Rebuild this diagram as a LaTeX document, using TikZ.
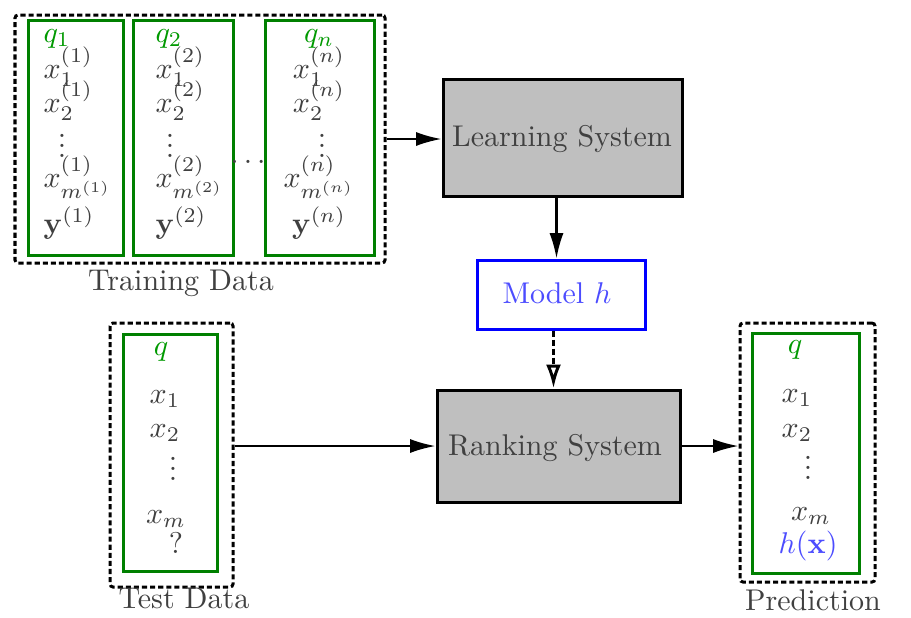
\documentclass[tikz,border=0pt]{standalone}
\usetikzlibrary{arrows.meta,fit}

\newcommand{\shortvdots}{\vbox{\baselineskip3.3pt \lineskiplimit0pt \kern2pt\hbox{.}\hbox{.}\hbox{.}}}

\begin{document}
\begin{tikzpicture}[x=0.3333pt, y=-0.3333pt, >={Latex[length=8.5pt,width=4.7pt]},
	txt/.style={text=black!75, inner sep=0pt},
	qlabel/.style={txt, text=green!60!black},
	query/.style={draw=green!50!black, line width=1pt, inner sep=0pt},
	dataset/.style={draw=black, line width=1pt, dash pattern=on 1.7pt off 1pt, rounded corners=1pt, inner sep=0pt},
	system/.style={draw=black, line width=1pt, fill=black!25, inner sep=0pt},
	flow/.style={->, line width=0.7pt}]
\useasboundingbox (0,0) rectangle (911,617);

% training data
\node[dataset, fit={(15,15) (385,263)}] (train) {};
\foreach \i/\l/\r/\c/\a/\d in {1/28/123/43/base west/62, 2/133/233/155/base west/170, n/265/374/319/base/322}{
	\node[query, fit={(\l,20) (\r,255)}] (col\i) {};
	\node[qlabel, anchor=\a] (q\i) at (\c,42) {$q_\i$};
	\node[txt, anchor=\a] (x1\i) at (\c,78) {$x_1^{(\i)}$};
	\node[txt, anchor=\a] (x2\i) at (\c,112) {$x_2^{(\i)}$};
	\node[txt, anchor=base] (dots\i) at (\d,157) {\shortvdots};
	\node[txt, anchor=\a] (xm\i) at (\c,187) {$x_{m^{(\i)}}^{(\i)}$};
	\node[txt, anchor=\a] (y\i) at (\c,233) {$\mathbf{y}^{(\i)}$};
}
\node[txt, anchor=base] (gap) at (248,163) {$\ldots$};
\node[txt, anchor=base] (trainlabel) at (181,290) {Training Data};

% systems
\node[system, fit={(443,79) (682,196)}] (learn) {};
\node[txt, anchor=base] (learntext) at (562,146) {Learning System};
\node[draw=blue, line width=1pt, inner sep=0pt, fit={(477,260) (645,329)}] (model) {};
\node[txt, anchor=base, text=blue!70] (modeltext) at (557,303) {Model $h$};
\node[system, fit={(437,390) (680,502)}] (rank) {};
\node[txt, anchor=base] (ranktext) at (555,455) {Ranking System};

% test data
\node[dataset, fit={(110,323) (233,587)}] (test) {};
\node[query, fit={(123,334) (217,571)}] (testq) {};
\node[qlabel, anchor=base] (tq) at (161,355) {$q$};
\node[txt, anchor=base] (tx1) at (165,403) {$x_1$};
\node[txt, anchor=base] (tx2) at (165,437) {$x_2$};
\node[txt, anchor=base] (tdots) at (173,480) {\shortvdots};
\node[txt, anchor=base] (txm) at (166,523) {$x_m$};
\node[txt, anchor=base] (tunk) at (176,553) {?};
\node[txt, anchor=base] (testlabel) at (184,608) {Test Data};

% prediction
\node[dataset, fit={(740,323) (875,582)}] (pred) {};
\node[query, fit={(752,333) (859,573)}] (predq) {};
\node[qlabel, anchor=base] (pq) at (795,353) {$q$};
\node[txt, anchor=base] (px1) at (797,402) {$x_1$};
\node[txt, anchor=base] (px2) at (797,437) {$x_2$};
\node[txt, anchor=base] (pdots) at (808,479) {\shortvdots};
\node[txt, anchor=base] (pxm) at (811,520) {$x_m$};
\node[txt, anchor=base, text=blue!70] (ph) at (808,553) {$h(\mathbf{x})$};
\node[txt, anchor=base] (predlabel) at (813,610) {Prediction};

% connectors
\draw[flow] (train.east) -- (train.east -| learn.west);
\draw[flow] ([xshift=-2pt]learn.south) -- ([xshift=-2pt]learn.south |- model.north);
\draw[line width=1pt, dash pattern=on 2pt off 1pt, -{Latex[open,length=8pt,width=5pt]}] ([xshift=-2.5pt]model.south) -- ([xshift=-2.5pt]model.south |- rank.north);
\draw[flow] (test.east |- rank.west) -- (rank.west);
\draw[flow] (rank.east) -- (rank.east -| pred.west);
\end{tikzpicture}
\end{document}
